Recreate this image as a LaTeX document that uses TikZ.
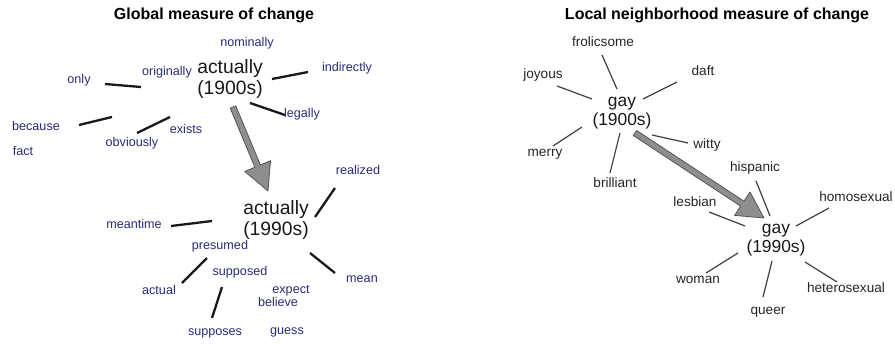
\documentclass[tikz,border=0pt]{standalone}
\usepackage{fontspec}
\setmainfont{Liberation Sans}
\usetikzlibrary{calc}
\definecolor{wordblue}{HTML}{2B2B78}
\definecolor{wordgray}{HTML}{262626}
\definecolor{arrowfill}{HTML}{8E8E8E}
\definecolor{arrowedge}{HTML}{555555}
\newcommand{\fatarrow}[5]{%
  \coordinate (#1-h) at ($(#2)!#5!(#1)$);
  \filldraw[bigarrow] ($(#1)!#3!90:(#2)$) -- ($(#1-h)!#3!90:(#2)$) -- ($(#1-h)!#4!90:(#2)$) -- (#2)
    -- ($(#1-h)!#4!-90:(#2)$) -- ($(#1-h)!#3!-90:(#2)$) -- ($(#1)!#3!-90:(#2)$) -- cycle;}
\begin{document}
\begin{tikzpicture}[x=1pt,y=-1pt,
  title/.style={font=\fontsize{16}{19}\selectfont\bfseries, text=black, inner sep=0pt},
  lword/.style={font=\fontsize{12.6}{15}\selectfont, text=wordblue, inner sep=0pt, text height=9pt, text depth=2.6pt},
  rword/.style={font=\fontsize{13.6}{16}\selectfont, text=wordgray, inner sep=0pt, text height=9.8pt, text depth=2.9pt},
  lbig/.style={font=\fontsize{19.3}{21}\selectfont, align=center, inner sep=0pt, text=black!90},
  rbig/.style={font=\fontsize{17.4}{19.5}\selectfont, align=center, inner sep=0pt, text=black!90},
  llink/.style={line width=2.3pt, black!90},
  rlink/.style={line width=1.2pt, black!75},
  bigarrow/.style={fill=arrowfill, draw=arrowedge, line width=0.8pt, line join=round}
]
\useasboundingbox[fill=white] (0,0) rectangle (895,343);

% titles
\node[title] (t1) at (214,15) {Global measure of change};
\node[title] (t2) at (717,15) {Local neighborhood measure of change};

% ---------- left panel ----------
\node[lbig] (a1900) at (230,79) {actually\\(1900s)};
\node[lbig] (a1990) at (276,220) {actually\\(1990s)};

\node[lword] (nominally) at (247,43) {nominally};
\node[lword] (originally) at (167,72) {originally};
\node[lword] (only) at (79,80) {only};
\node[lword] (indirectly) at (347,68) {indirectly};
\node[lword] (legally) at (302,114) {legally};
\node[lword] (because) at (36,127) {because};
\node[lword] (obviously) at (132,143) {obviously};
\node[lword] (exists) at (186,130) {exists};
\node[lword] (fact) at (23,152) {fact};
\node[lword] (realized) at (358,171) {realized};
\node[lword] (meantime) at (134,225) {meantime};
\node[lword] (presumed) at (220,246) {presumed};
\node[lword] (actual) at (159,291) {actual};
\node[lword] (supposed) at (240,272) {supposed};
\node[lword] (supposes) at (215,332) {supposes};
\node[lword] (expect) at (291,290) {expect};
\node[lword] (believe) at (278,303) {believe};
\node[lword] (guess) at (287,331) {guess};
\node[lword] (mean) at (362,279) {mean};

\coordinate (only-a) at (105,84);       \coordinate (only-b) at (141,87);
\coordinate (indirectly-a) at (272,79); \coordinate (indirectly-b) at (308,72);
\coordinate (legally-a) at (250,103);   \coordinate (legally-b) at (285,115);
\coordinate (because-a) at (79,125);    \coordinate (because-b) at (112,117);
\coordinate (obviously-a) at (137,133); \coordinate (obviously-b) at (170,117);
\coordinate (realized-a) at (315,217);  \coordinate (realized-b) at (335,188);
\coordinate (meantime-a) at (171,226);  \coordinate (meantime-b) at (212,221);
\coordinate (actual-a) at (182,283);    \coordinate (actual-b) at (207,258);
\coordinate (supposes-a) at (222,287);  \coordinate (supposes-b) at (212,318);
\coordinate (mean-a) at (310,253);      \coordinate (mean-b) at (335,273);
\foreach \w in {only,indirectly,legally,because,obviously,realized,meantime,actual,supposes,mean}
  \draw[llink] (\w-a) -- (\w-b);

\coordinate (la-s) at (233,107);
\coordinate (la-e) at (268,191);
\fatarrow{la-s}{la-e}{3pt}{14pt}{27pt}

% ---------- right panel ----------
\node[rbig] (g1900) at (622,113) {gay\\(1900s)};
\node[rbig] (g1990) at (776,240) {gay\\(1990s)};

\node[rword] (frolicsome) at (603,43) {frolicsome};
\node[rword] (joyous) at (543,75) {joyous};
\node[rword] (daft) at (703,72) {daft};
\node[rword] (merry) at (545,153) {merry};
\node[rword] (witty) at (707,145) {witty};
\node[rword] (brilliant) at (615,184) {brilliant};
\node[rword] (hispanic) at (755,168) {hispanic};
\node[rword] (lesbian) at (695,203) {lesbian};
\node[rword] (homosexual) at (856,198) {homosexual};
\node[rword] (woman) at (698,280) {woman};
\node[rword] (queer) at (768,311) {queer};
\node[rword] (heterosexual) at (846,289) {heterosexual};

\coordinate (frolicsome-a) at (602,55);   \coordinate (frolicsome-b) at (617,89);
\coordinate (joyous-a) at (557,86);       \coordinate (joyous-b) at (592,99);
\coordinate (daft-a) at (643,99);         \coordinate (daft-b) at (677,82);
\coordinate (merry-a) at (553,146);       \coordinate (merry-b) at (582,127);
\coordinate (witty-a) at (652,135);       \coordinate (witty-b) at (688,143);
\coordinate (brilliant-a) at (620,133);   \coordinate (brilliant-b) at (610,173);
\coordinate (hispanic-a) at (756,181);    \coordinate (hispanic-b) at (770,216);
\coordinate (lesbian-a) at (709,212);     \coordinate (lesbian-b) at (745,226);
\coordinate (homosexual-a) at (796,226);  \coordinate (homosexual-b) at (829,208);
\coordinate (woman-a) at (706,273);       \coordinate (woman-b) at (738,253);
\coordinate (queer-a) at (772,261);       \coordinate (queer-b) at (763,297);
\coordinate (heterosexual-a) at (805,262);\coordinate (heterosexual-b) at (837,282);
\foreach \w in {frolicsome,joyous,daft,merry,witty,brilliant,hispanic,lesbian,homosexual,woman,queer,heterosexual}
  \draw[rlink] (\w-a) -- (\w-b);

\coordinate (ra-s) at (635,133);
\coordinate (ra-e) at (764,218);
\fatarrow{ra-s}{ra-e}{3pt}{14pt}{26pt}
\end{tikzpicture}
\end{document}
